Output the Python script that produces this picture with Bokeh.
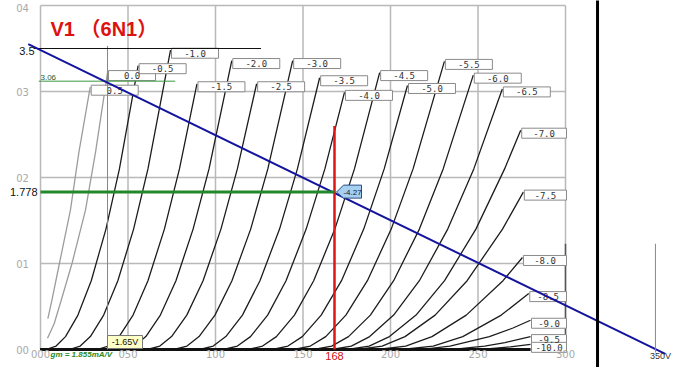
from bokeh.plotting import figure
from bokeh.models import Range1d
from bokeh.core.properties import value
from bokeh.embed import file_html
from bokeh.resources import INLINE

# ---------------- data ----------------
grid_voltages = ["0.5", "0.0", "-0.5", "-1.0", "-1.5", "-2.0", "-2.5", "-3.0", "-3.5",
                 "-4.0", "-4.5", "-5.0", "-5.5", "-6.0", "-6.5", "-7.0", "-7.5",
                 "-8.0", "-8.5", "-9.0", "-9.5", "-10.0"]

# plate voltage (V) of each curve
plate_v = [
    [4.2, 6.5, 10.8, 17.1, 22.0, 28.4],
    [4.0, 7.8, 11.8, 18.0, 25.7, 31.5, 38.3],
    [0, 3.1, 8.9, 14.3, 21.4, 29.0, 37.4, 45.1, 55.8],
    [0, 16.5, 22.7, 28.5, 36.1, 44.2, 53.2, 61.4, 74.3],
    [0, 32.3, 38.8, 44.9, 52.9, 61.4, 70.8, 79.4, 89.4],
    [0, 47.0, 53.8, 60.2, 68.5, 77.4, 87.2, 96.3, 109.3],
    [0, 61.1, 68.2, 74.9, 83.6, 92.9, 103.1, 112.5, 123.5],
    [0, 76.3, 83.7, 90.6, 99.7, 109.4, 120.1, 129.9, 144.1],
    [0, 91.0, 98.7, 105.9, 115.4, 125.4, 136.6, 146.8, 159.5],
    [0, 104.5, 112.5, 120.0, 129.8, 140.3, 151.8, 162.5, 173.7],
    [0, 118.5, 126.9, 134.8, 145.1, 156.1, 168.2, 179.4, 193.8],
    [0, 132.6, 141.4, 149.6, 160.4, 172.0, 184.7, 196.4, 209.7],
    [0, 144.8, 154.2, 163.0, 174.5, 186.8, 200.4, 212.9, 230.8],
    [0, 156.2, 166.4, 176.0, 188.5, 201.8, 216.5, 230.1, 247.3],
    [0, 166.4, 177.6, 188.1, 201.8, 216.5, 232.7, 247.6, 263.9],
    [0, 175.4, 187.8, 199.4, 214.6, 230.9, 248.8, 265.2, 274.4],
    [0, 181.2, 195.2, 208.3, 225.5, 243.8, 264.0, 275.9],
    [0, 192.7, 208.7, 223.7, 243.3, 264.3, 275.4],
    [0, 206.4, 224.4, 241.3, 263.3, 279.0],
    [0, 210.0, 222.0, 234.0, 256.5, 270.0, 280.0],
    [0, 225.8, 239.8, 253.8, 265.4, 280.0],
    [0, 240.8, 256.8, 268.5, 280.0],
]
# plate current (mA) of each curve
plate_i = [
    [0.36, 0.57, 1.0, 1.62, 2.3, 3.05],
    [0.13, 0.3, 0.57, 1.0, 1.62, 2.3, 3.22],
    [0, 0, 0.04, 0.15, 0.4, 0.8, 1.4, 2.1, 3.30],
    [0, 0, 0.04, 0.15, 0.4, 0.8, 1.4, 2.1, 3.48],
    [0, 0, 0.04, 0.15, 0.4, 0.8, 1.4, 2.1, 3.09],
    [0, 0, 0.04, 0.15, 0.4, 0.8, 1.4, 2.1, 3.36],
    [0, 0, 0.04, 0.15, 0.4, 0.8, 1.4, 2.1, 3.09],
    [0, 0, 0.04, 0.15, 0.4, 0.8, 1.4, 2.1, 3.36],
    [0, 0, 0.04, 0.15, 0.4, 0.8, 1.4, 2.1, 3.16],
    [0, 0, 0.04, 0.15, 0.4, 0.8, 1.4, 2.1, 2.99],
    [0, 0, 0.04, 0.15, 0.4, 0.8, 1.4, 2.1, 3.22],
    [0, 0, 0.04, 0.15, 0.4, 0.8, 1.4, 2.1, 3.07],
    [0, 0, 0.04, 0.15, 0.4, 0.8, 1.4, 2.1, 3.35],
    [0, 0, 0.04, 0.15, 0.4, 0.8, 1.4, 2.1, 3.19],
    [0, 0, 0.04, 0.15, 0.4, 0.8, 1.4, 2.1, 3.03],
    [0, 0, 0.04, 0.15, 0.4, 0.8, 1.4, 2.1, 2.55],
    [0, 0, 0.04, 0.15, 0.4, 0.8, 1.4, 1.83],
    [0, 0, 0.04, 0.15, 0.4, 0.8, 1.07],
    [0, 0, 0.04, 0.15, 0.4, 0.65],
    [0, 0, 0.01, 0.04, 0.15, 0.25, 0.34],
    [0, 0, 0.01, 0.04, 0.08, 0.15],
    [0, 0, 0.01, 0.03, 0.06],
]

# common tail of the curves running along the zero-current axis
tail_v = [0, 280]

x_tick_values = [0, 50, 100, 150, 200, 250, 300]
x_tick_labels = ["000", "050", "100", "150", "200", "250", "300"]
y_tick_values = [0, 1, 2, 3, 4]
y_tick_labels = ["00", "01", "02", "03", "04"]

title_text = "V1 （6N1）"

load_line_v = [-7, 357]
load_line_i = [3.55, -0.05]
load_end_label = "350V"
load_end_v = 350

ref_current = 3.5
ref_current_label = "3.5"
ref_line_v = [-4, 126]

bias_v = 38.3
bias_label = "-1.65V"
bias_top_i = 3.53
bias_current_label = "3.06"
bias_line_i = 3.12          # level at which the 3.06 line is drawn
bias_line_v = [-1, 77]

op_v = 168
op_v_label = "168"
op_i_label = "1.778"
op_line_i = 1.83            # level at which the 1.778 line is drawn
op_grid_label = "-4.27"
op_marker_top_i = 2.6

gm_label = "gm = 1.855mA/V"

divider_v = 318.3
end_tick_v = 351.4
end_tick_i = [-0.035, 1.23]
border_dark_i = [0, 1.23]

# ---------------- pixel <-> data helpers ----------------
W, H = 680, 367
X0, SX = 40.0, 1.75
Y0, SY = 349.0, 86.0


def v_of(px):
    return (px - X0) / SX


def i_of(py):
    return (Y0 - py) / SY


def px_of(v):
    return X0 + SX * v


def py_of(i):
    return Y0 - SY * i


p = figure(width=W, height=H, output_backend="svg", toolbar_location=None,
           x_range=Range1d(v_of(0), v_of(W)), y_range=Range1d(i_of(H), i_of(0)),
           min_border=0, min_border_left=0, min_border_right=0,
           min_border_top=0, min_border_bottom=0)
p.axis.visible = False
p.xgrid.visible = False
p.ygrid.visible = False
p.outline_line_color = None
p.background_fill_color = "white"
p.border_fill_color = "white"

GRID = "#b9b9b9"
# grid
p.multi_line(xs=[[v, v] for v in x_tick_values],
             ys=[[y_tick_values[0], y_tick_values[-1]] for _ in x_tick_values],
             line_color=GRID, line_width=1.5)
p.multi_line(xs=[[x_tick_values[0], x_tick_values[-1]] for _ in y_tick_values],
             ys=[[i, i] for i in y_tick_values],
             line_color=GRID, line_width=1.5)
p.line([x_tick_values[-1], x_tick_values[-1]], border_dark_i, line_color="#555555", line_width=1.5)

# plate curves
gray_xs, gray_ys, blk_xs, blk_ys = [], [], [], []
for g, vs, cs in zip(grid_voltages, plate_v, plate_i):
    if float(g) >= 0:
        gray_xs.append(vs)
        gray_ys.append(cs)
    else:
        blk_xs.append(vs)
        blk_ys.append(cs)
p.multi_line(xs=gray_xs, ys=gray_ys, line_color="#9c9c9c", line_width=1.3)
p.multi_line(xs=blk_xs, ys=blk_ys, line_color="#1c1c1c", line_width=1.3)
p.line(tail_v, [0, 0], line_color="#111111", line_width=3)

# curve labels (boxes at curve ends)
lab_x, lab_y, lab_w = [], [], []
for vs, cs in zip(plate_v, plate_i):
    left = px_of(vs[-1]) + 1
    right = min(left + 47, px_of(x_tick_values[-1]) + 1)
    lab_x.append(v_of((left + right) / 2))
    lab_y.append(i_of(py_of(cs[-1]) + 3))
    lab_w.append(right - left)
p.rect(x=lab_x, y=lab_y, width=lab_w, height=10, width_units="screen", height_units="screen",
       fill_color="white", line_color="#8a8a8a", line_width=1)
p.text(x=lab_x, y=lab_y, text=grid_voltages, text_align="center", text_baseline="middle",
       text_font=value("DejaVu Sans Mono"), text_font_size="9px", text_color="#333333")

# bias marker (thin red) and 3.06 line
p.line([bias_v, bias_v], [0, bias_top_i], line_color="#e06060", line_width=1)
p.line(bias_line_v, [bias_line_i, bias_line_i], line_color="#3c9a3c", line_width=1)
# 3.5 reference line
p.line(ref_line_v, [ref_current, ref_current], line_color="#111111", line_width=1)
# load line
p.line(load_line_v, load_line_i, line_color="#14149e", line_width=2)
# operating point lines
p.line([op_v, op_v], [0, op_marker_top_i], line_color="#e01515", line_width=2.5)
p.line([0, op_v], [op_line_i, op_line_i], line_color="#22882a", line_width=3)

# separators on the right
p.line([divider_v, divider_v], [i_of(H + 2), i_of(-2)], line_color="#000000", line_width=3)
p.line([end_tick_v, end_tick_v], end_tick_i, line_color="#8a8a8a", line_width=1)

# callout at operating point
opx, opy = px_of(op_v), py_of(op_line_i)
poly = [(2, 0), (9, -7), (27, -7), (27, 6), (9, 6)]
p.patch([v_of(opx + dx) for dx, dy in poly], [i_of(opy + dy) for dx, dy in poly],
        fill_color="#a6cff0", line_color="#2d4d85", line_width=1)
p.text(x=[v_of(opx + 18)], y=[op_line_i], text=[op_grid_label], text_align="center",
       text_baseline="middle", text_font=value("Liberation Sans"), text_font_size="8px",
       text_color="#102040")

# -1.65V box
bx = px_of(bias_v)
p.rect(x=[v_of(bx + 17.5)], y=[i_of(Y0 - 7.5)], width=35, height=13,
       width_units="screen", height_units="screen", fill_color="#ffffc8",
       line_color="#777777", line_width=1)
p.text(x=[v_of(bx + 17.5)], y=[i_of(Y0 - 7.5)], text=[bias_label], text_align="center",
       text_baseline="middle", text_font=value("Liberation Sans"), text_font_size="9px",
       text_color="#111111")

# tick labels
p.text(x=x_tick_values, y=[i_of(353)] * len(x_tick_values), text=x_tick_labels,
       text_align="center", text_baseline="middle", text_font=value("DejaVu Sans"),
       text_font_size="10px", text_color="#a9a9a9")
p.text(x=[v_of(22)] * len(y_tick_values), y=[min(i, i_of(7)) for i in y_tick_values],
       text=y_tick_labels, text_align="center", text_baseline="middle",
       text_font=value("DejaVu Sans"), text_font_size="10px", text_color="#a9a9a9")

# value labels
p.text(x=[v_of(34)], y=[ref_current], y_offset=2, text=[ref_current_label], text_align="right",
       text_baseline="middle", text_font=value("Liberation Sans"), text_font_size="11px",
       text_color="#111111")
p.text(x=[v_of(40)], y=[bias_line_i], y_offset=-1, text=[bias_current_label], text_align="left",
       text_baseline="bottom", text_font=value("Liberation Sans"), text_font_size="8px",
       text_color="#2a5a2a")
p.text(x=[v_of(37)], y=[op_line_i], text=[op_i_label], text_align="right",
       text_baseline="middle", text_font=value("Liberation Sans"), text_font_size="11px",
       text_color="#111111")
p.text(x=[op_v], y=[i_of(355)], text=[op_v_label], text_align="center",
       text_baseline="middle", text_font=value("Liberation Sans"), text_font_size="11px",
       text_color="#d01010")
p.text(x=[v_of(50)], y=[i_of(354)], text=[gm_label], text_align="left",
       text_baseline="middle", text_font=value("Liberation Sans"), text_font_size="8px",
       text_font_style="bold italic", text_color="#2a8a2a")
p.text(x=[load_end_v], y=[i_of(355)], x_offset=-3, text=[load_end_label], text_align="left",
       text_baseline="middle", text_font=value("Liberation Sans"), text_font_size="9px",
       text_color="#333333")

# title
p.text(x=[v_of(50)], y=[i_of(28)], text=[title_text], text_align="left",
       text_baseline="alphabetic", text_font=value("Liberation Sans, Noto Sans CJK SC"),
       text_font_size="20px", text_font_style="bold", text_color="#dd1111")

open("out.html", "w").write(file_html(p, INLINE))
